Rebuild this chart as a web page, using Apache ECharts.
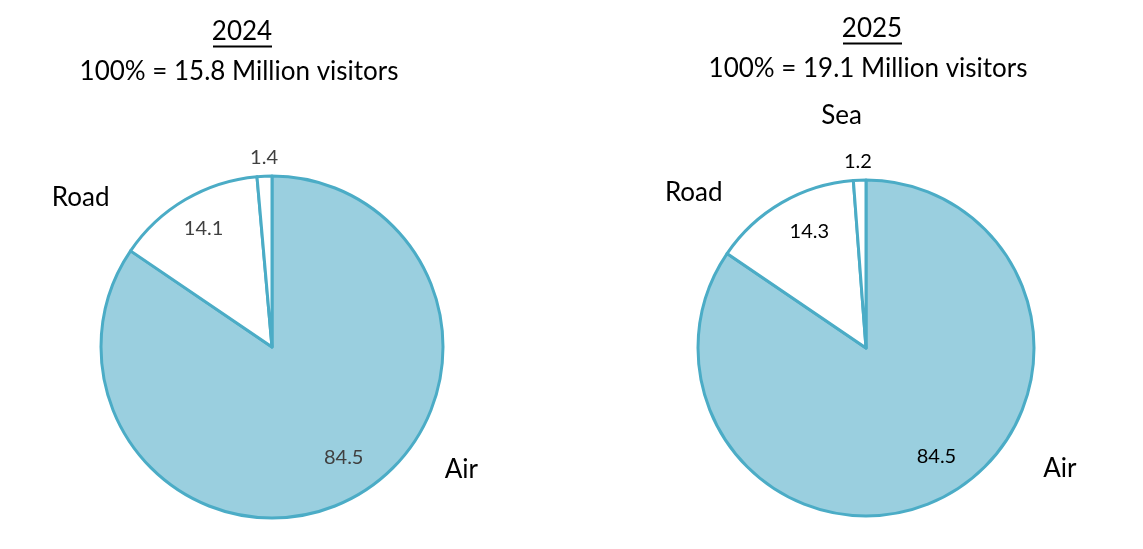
<!DOCTYPE html>
<html><head><meta charset="utf-8">
<script src="https://cdn.jsdelivr.net/npm/echarts@6/dist/echarts.min.js"></script>
<style>html,body{margin:0;padding:0;background:#fff}#c{width:1143px;height:549px}</style>
</head><body><div id="c"></div>
<script>
const categories = ['Air', 'Road', 'Sea'];
const years = ['2024', '2025'];
const totals = ['15.8', '19.1'];
const values2024 = [84.5, 14.1, 1.4];
const values2025 = [84.5, 14.3, 1.2];
const showName2024 = [true, true, false];
const showName2025 = [true, true, true];

// label placement (style): [angle in degrees clockwise from top, radius factor]
const valuePlace2024 = [[147, 0.77], [-30, 0.80], [-2.4, 1.11]];
const valuePlace2025 = [[147, 0.77], [-26, 0.77], [-2.5, 1.11]];
const namePlace2024 = [[123, 1.32], [-52, 1.42], [-6, 1.39]];
const namePlace2025 = [[122, 1.36], [-48, 1.38], [-6, 1.39]];

const FONT = 'Lato, "Open Sans", sans-serif';
const fills = ['#9ACFDF', '#FFFFFF', '#FFFFFF'];
const BORDER = '#4BACC6';

function pieSeries(values, showNames, center, R, valColor, valPlace, namePlace) {
  const out = [];
  out.push({
    type: 'pie', center: center, radius: R, silent: true, startAngle: 90, clockwise: true,
    label: {show: false}, labelLine: {show: false},
    data: categories.map((n, i) => ({name: n, value: values[i],
      itemStyle: {color: fills[i], borderColor: BORDER, borderWidth: 3}}))
  });
  const labelSeries = (fmt, showArr, size, color, place) => ({
    type: 'pie', center: center, radius: R, silent: true, startAngle: 90, clockwise: true,
    z: 5, labelLine: {show: false},
    labelLayout: function (p) {
      const pl = place[p.dataIndex];
      const a = pl[0] * Math.PI / 180;
      return {x: center[0] + Math.sin(a) * pl[1] * R, y: center[1] - Math.cos(a) * pl[1] * R,
        align: 'center', verticalAlign: 'middle'};
    },
    data: categories.map((n, i) => ({name: n, value: values[i],
      itemStyle: {color: 'transparent', borderWidth: 0},
      label: {show: showArr[i], position: 'inside', rotate: 0, formatter: fmt,
        fontFamily: FONT, fontSize: size, color: color}}))
  });
  out.push(labelSeries(p => p.value.toFixed(1), [true, true, true], 20, valColor, valPlace));
  out.push(labelSeries('{b}', showNames, 26, '#000', namePlace));
  return out;
}

const tStyle = {fontFamily: FONT, fontSize: 26, fontWeight: 'normal', color: '#000'};
const chart = echarts.init(document.getElementById('c'));
chart.setOption({
  animation: false,
  title: [
    {text: years[0], left: 242, top: 19, padding: 0, textAlign: 'center', textStyle: tStyle},
    {text: '100% = ' + totals[0] + ' Million visitors', left: 239, top: 59, padding: 0, textAlign: 'center', textStyle: tStyle},
    {text: years[1], left: 872, top: 16, padding: 0, textAlign: 'center', textStyle: tStyle},
    {text: '100% = ' + totals[1] + ' Million visitors', left: 868, top: 56, padding: 0, textAlign: 'center', textStyle: tStyle}
  ],
  graphic: [
    {type: 'line', shape: {x1: 213, y1: 46.5, x2: 272, y2: 46.5}, style: {stroke: '#000', lineWidth: 2}},
    {type: 'line', shape: {x1: 843, y1: 43.5, x2: 902, y2: 43.5}, style: {stroke: '#000', lineWidth: 2}}
  ],
  series: [
    ...pieSeries(values2024, showName2024, [272, 347], 171, '#404040', valuePlace2024, namePlace2024),
    ...pieSeries(values2025, showName2025, [866, 348], 168, '#000', valuePlace2025, namePlace2025)
  ]
});
</script></body></html>
